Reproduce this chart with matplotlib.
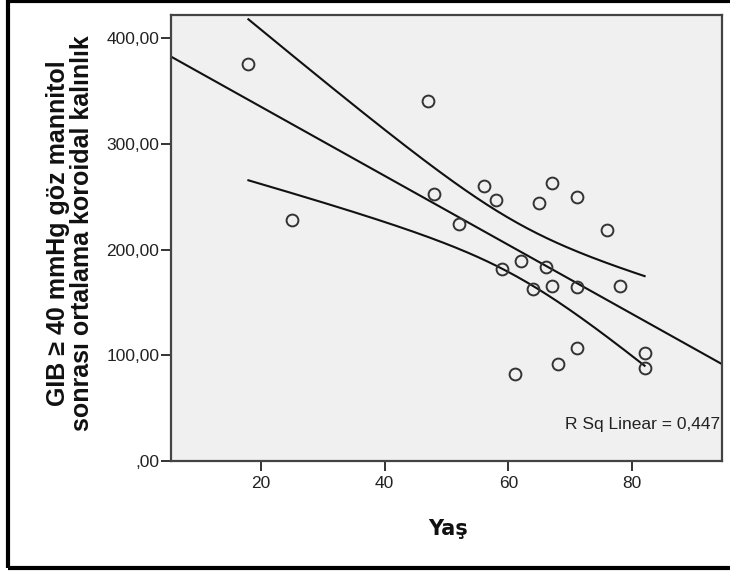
import numpy as np
import matplotlib
matplotlib.use("Agg")
import matplotlib.pyplot as plt
from matplotlib.ticker import FixedLocator, FixedFormatter
from matplotlib.patches import Rectangle

# ---- data ----
age = [18, 25, 47, 48, 52, 56, 58, 59, 61, 62, 64, 65, 66, 67, 67, 68,
       71, 71, 71, 76, 78, 82, 82]
thickness = [376, 228.5, 340.6, 252.8, 224.4, 260.4, 247.2, 181.8, 82, 189,
             162.9, 244, 183.4, 263, 166, 91.9, 249.4, 165, 107.3, 219, 166,
             102.3, 88.4]
x_ticks = [20, 40, 60, 80]
x_tick_labels = ["20", "40", "60", "80"]
y_ticks = [0, 100, 200, 300, 400]
y_tick_labels = [",00", "100,00", "200,00", "300,00", "400,00"]
x_label = "Yaş"
y_label = "GIB \u2265 40 mmHg göz mannitol\nsonrası ortalama koroidal kalınlık"
r2_text = "R Sq Linear = 0,447"

plt.rcParams['font.family'] = ['Liberation Sans', 'DejaVu Sans']

W, H = 730, 573
x = np.array(age, dtype=float)
y = np.array(thickness, dtype=float)
n = len(x)
b, a = np.polyfit(x, y, 1)
resid = y - (a + b * x)
s = np.sqrt(np.sum(resid ** 2) / (n - 2))
sxx = np.sum((x - x.mean()) ** 2)
t_crit = 2.0796  # t(0.975, df=21)

fig = plt.figure(figsize=(W / 100, H / 100), dpi=100)
ax = fig.add_axes([171 / W, 1 - 461 / H, (722 - 171) / W, (461 - 15) / H])
ax.set_facecolor("#F0F0F0")

xlim = (5.5, 94.5)
xf = np.linspace(xlim[0], xlim[1], 200)
ax.plot(xf, a + b * xf, color="#111111", lw=1.5, zorder=2)

xc = np.linspace(x.min(), x.max(), 200)
half = t_crit * s * np.sqrt(1.0 / n + (xc - x.mean()) ** 2 / sxx)
yc = a + b * xc
ax.plot(xc, yc + half, color="#111111", lw=1.5, zorder=2)
ax.plot(xc, yc - half, color="#111111", lw=1.5, zorder=2)

ax.plot(x, y, linestyle="none", marker="o", markersize=8.5,
        markerfacecolor="none", markeredgecolor="#333333",
        markeredgewidth=1.4, zorder=3)

ax.set_xlim(*xlim)
ax.set_ylim(0, 422)

ax.xaxis.set_major_locator(FixedLocator(x_ticks))
ax.xaxis.set_major_formatter(FixedFormatter(x_tick_labels))
ax.yaxis.set_major_locator(FixedLocator(y_ticks))
ax.yaxis.set_major_formatter(FixedFormatter(y_tick_labels))
ax.tick_params(axis="both", direction="out", length=7.5, width=1.4,
               color="#333333", labelsize=12.5, labelcolor="#222222", pad=1)
ax.tick_params(axis="x", pad=3)

for sp in ax.spines.values():
    sp.set_color("#444444")
    sp.set_linewidth(1.6)

fig.text(448 / W, 1 - 535 / H, x_label, fontsize=15, fontweight="bold",
         family=["DejaVu Sans"], ha="center", va="baseline", color="#111111")
fig.text(70 / W, 1 - 233 / H, y_label, fontsize=18, fontweight="bold",
         rotation=90, ha="center", va="center", multialignment="center",
         color="#111111", linespacing=1.0)

ax.text(0.996, 0.081, r2_text, transform=ax.transAxes, ha="right",
        va="center", fontsize=12.5, color="#222222")

# outer frame
fig.patches.append(Rectangle((7.5 / W, 1 - 568 / H), 1.0, (568 - 1) / H,
                             transform=fig.transFigure, fill=False,
                             edgecolor="black", linewidth=3, zorder=10))

fig.savefig("out.png", dpi=100)
